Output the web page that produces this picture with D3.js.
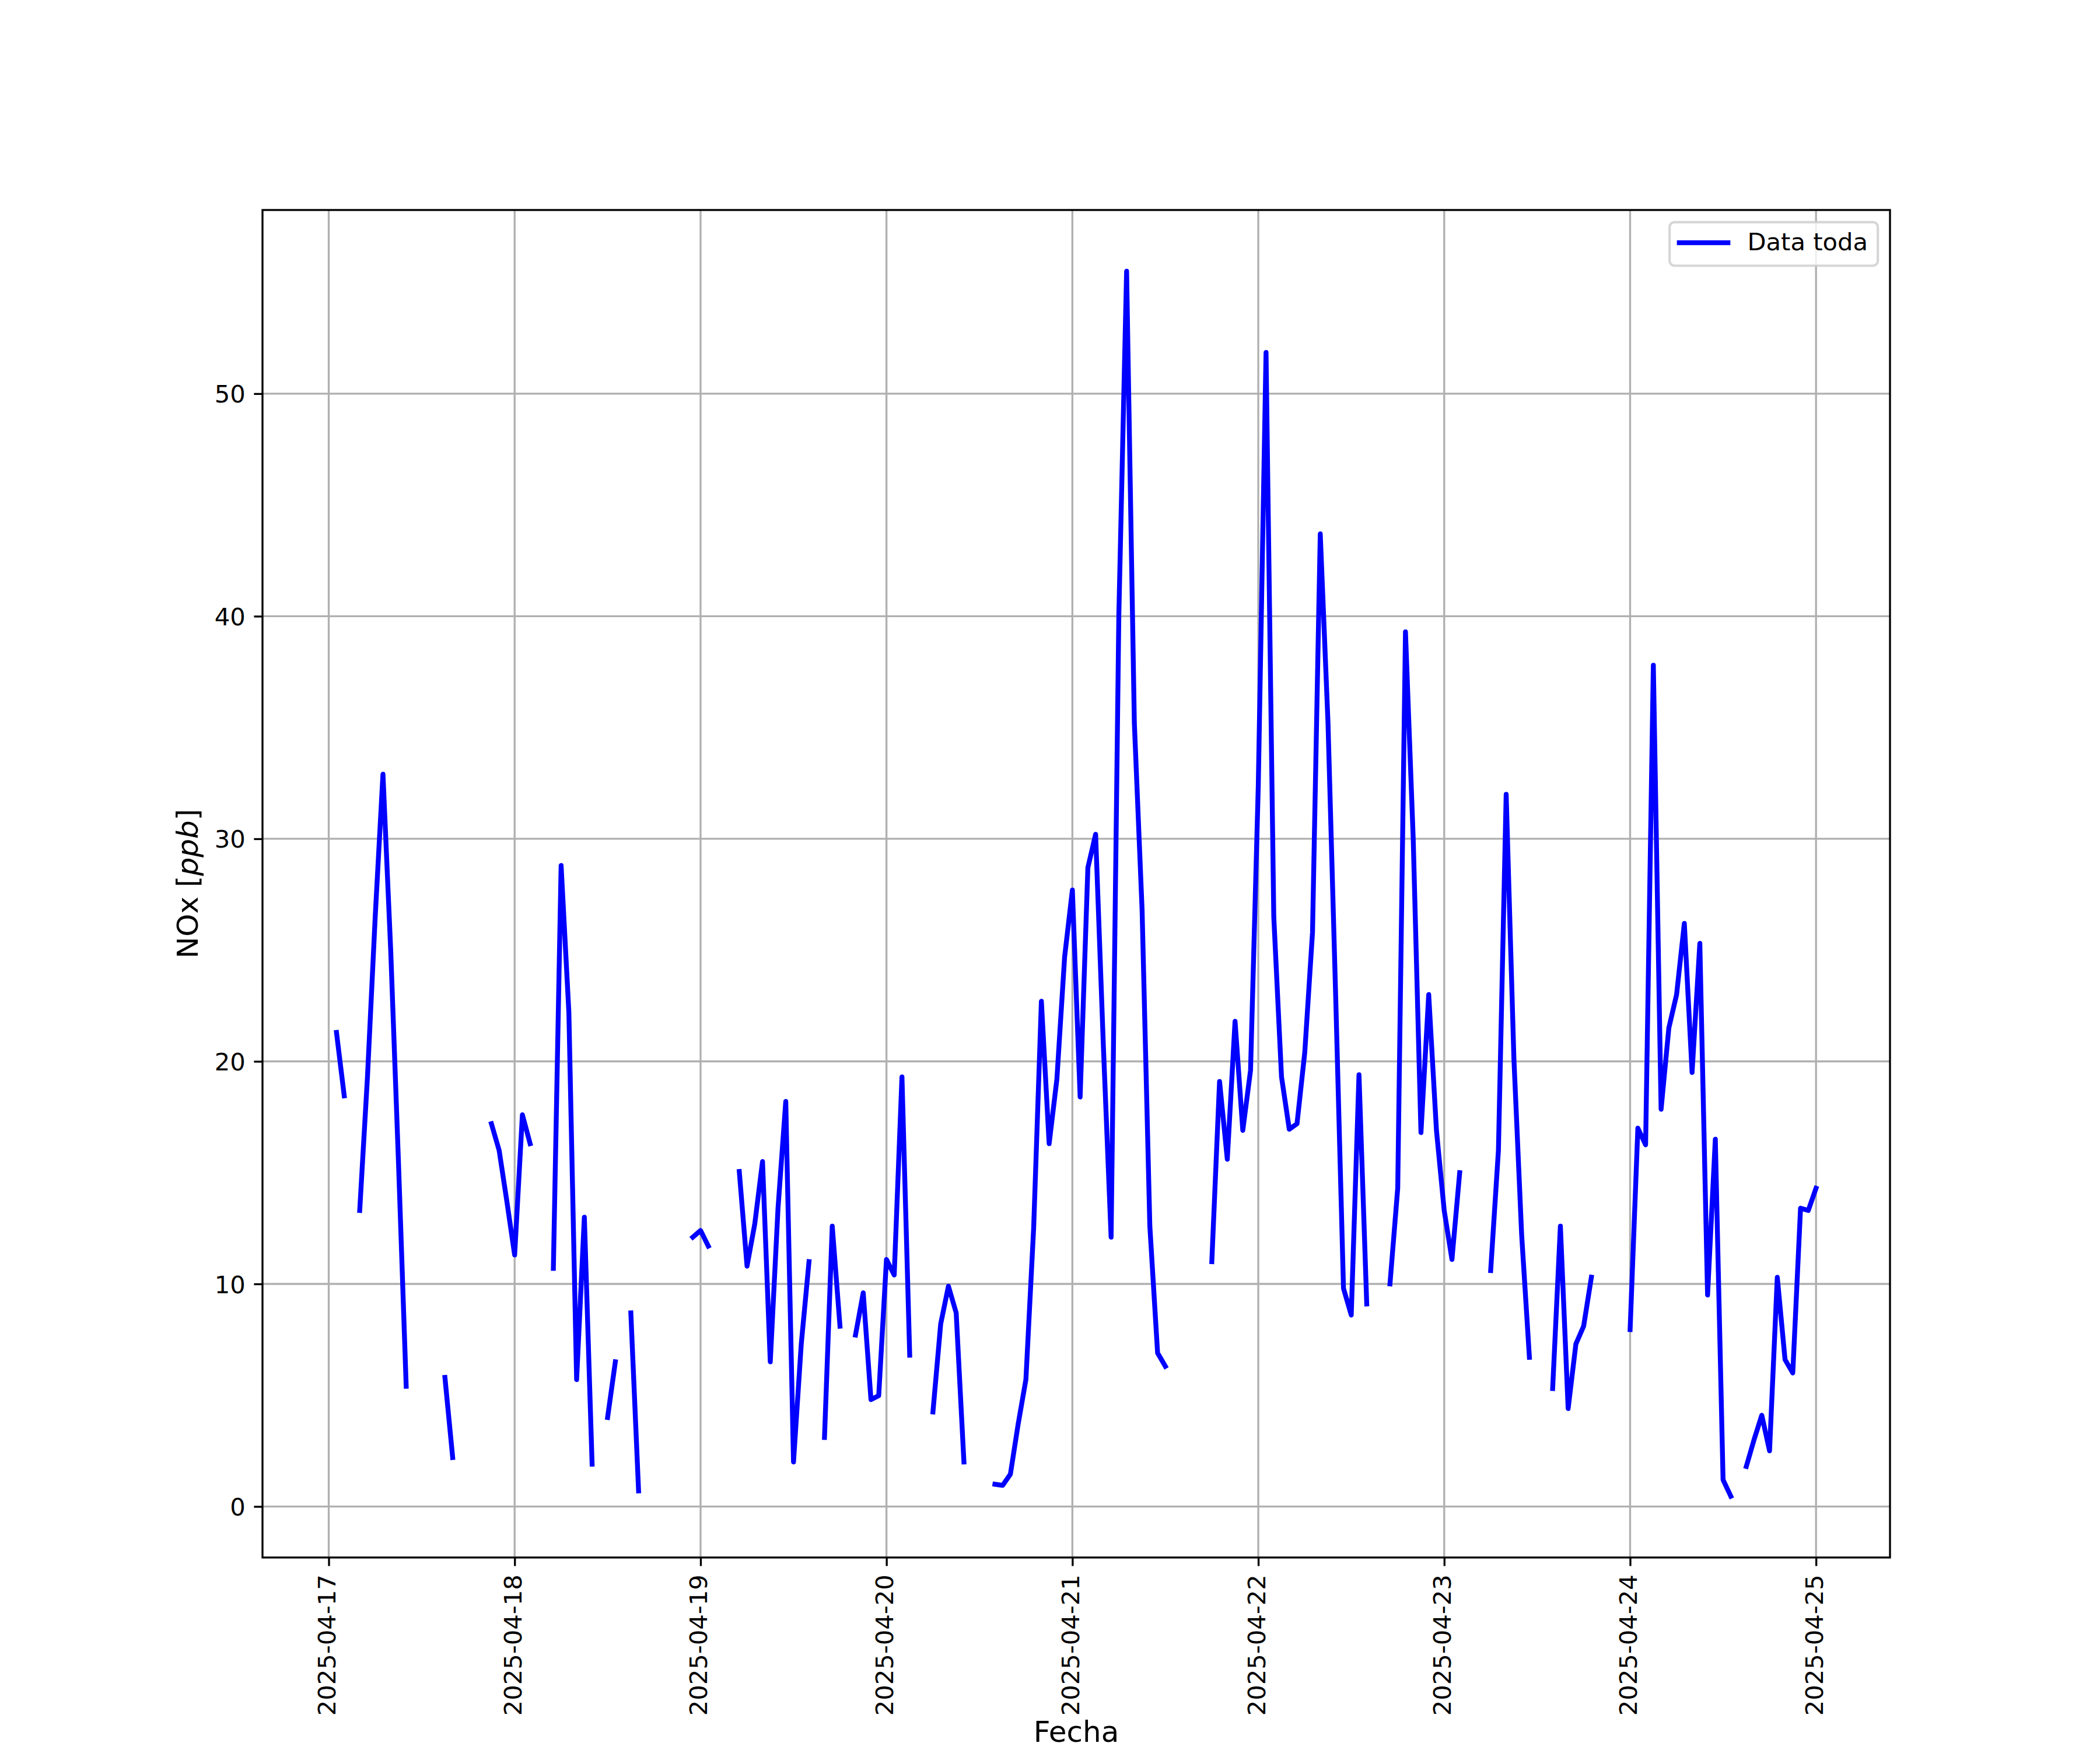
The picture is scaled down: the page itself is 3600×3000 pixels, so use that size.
<!DOCTYPE html>
<html>
<head>
<meta charset="utf-8">
<script src="https://cdn.jsdelivr.net/npm/d3@7"></script>
<style>
  html, body { margin: 0; padding: 0; background: #ffffff; }
  svg { display: block; }
</style>
</head>
<body>
<script>
// ---- Data: hourly NOx [ppb], null = missing ----
const startISO = "2025-04-17T00:00:00Z";
const nox_0417 = [null, 21.3, 18.45, null, 13.3, 19.3, 26.5, 32.9, 25.0, 15.5, 5.4, null,
                  null, null, null, 5.8, 2.2, null, null, null, null, 17.2, 16.0, 13.7];
const nox_0418 = [11.3, 17.6, 16.3, null, null, 10.7, 28.8, 22.2, 5.7, 13.0, 1.9, null,
                  4.0, 6.5, null, 8.7, 0.7, null, null, null, null, null, null, 12.1];
const nox_0419 = [12.4, 11.7, null, null, null, 15.05, 10.8, 12.7, 15.5, 6.5, 13.4, 18.2,
                  2.0, 7.3, 11.0, null, 3.1, 12.6, 8.1, null, 7.7, 9.6, 4.8, 4.98];
const nox_0420 = [11.1, 10.4, 19.3, 6.8, null, null, 4.25, 8.2, 9.9, 8.7, 2.0, null,
                  null, null, 1.0, 0.95, 1.45, 3.7, 5.7, 12.5, 22.7, 16.3, 19.2, 24.7];
const nox_0421 = [27.7, 18.4, 28.7, 30.2, 20.7, 12.1, 40.1, 55.5, 35.2, 26.8, 12.6, 6.9,
                  6.3, null, null, null, null, null, 11.0, 19.1, 15.6, 21.8, 16.9, 19.6];
const nox_0422 = [32.4, 51.85, 26.5, 19.3, 16.95, 17.2, 20.4, 25.8, 43.7, 35.2, 22.8, 9.8,
                  8.6, 19.4, 9.1, null, null, 10.0, 14.3, 39.3, 30.0, 16.8, 23.0, 16.9];
const nox_0423 = [13.3, 11.1, 15.0, null, null, null, 10.6, 16.0, 32.0, 20.1, 12.2, 6.7,
                  null, null, 5.3, 12.6, 4.4, 7.3, 8.1, 10.3, null, null, null, null];
const nox_0424 = [7.95, 17.0, 16.25, 37.8, 17.85, 21.5, 23.0, 26.2, 19.5, 25.3, 9.5, 16.5,
                  1.2, 0.46, null, 1.8, 3.0, 4.1, 2.5, 10.3, 6.6, 6.0, 13.4, 13.3];
const nox_0425 = [14.3];

const yTicks = [0, 10, 20, 30, 40, 50];
const xTickLabels = ["2025-04-17","2025-04-18","2025-04-19","2025-04-20","2025-04-21",
                     "2025-04-22","2025-04-23","2025-04-24","2025-04-25"];
const seriesName = "Data toda";
const xLabel = "Fecha";

// ---- Build table ----
const allVals = [].concat(nox_0417, nox_0418, nox_0419, nox_0420, nox_0421,
                          nox_0422, nox_0423, nox_0424, nox_0425);
const t0 = new Date(startISO).getTime();
const data = allVals.map((v, i) => ({ t: new Date(t0 + i * 3600e3), v: v }));
const valid = data.filter(d => d.v != null);

// ---- Layout (matplotlib defaults at 300 dpi, 12x10 in) ----
const W = 3600, H = 3000;
const L = 450, R = 3240, T = 360, B = 2670;
const pt = 300 / 72;
const tickFont = 10 * pt, labelFont = 12 * pt;

const svg = d3.select("body").append("svg")
  .attr("width", W).attr("height", H)
  .attr("font-family", "DejaVu Sans, sans-serif");
svg.append("rect").attr("width", W).attr("height", H).attr("fill", "#fff");

const tExt = d3.extent(valid, d => d.t.getTime());
const tPad = (tExt[1] - tExt[0]) * 0.05;
const x = d3.scaleUtc().domain([new Date(tExt[0] - tPad), new Date(tExt[1] + tPad)]).range([L, R]);
const vExt = d3.extent(valid, d => d.v);
const vPad = (vExt[1] - vExt[0]) * 0.05;
const y = d3.scaleLinear().domain([vExt[0] - vPad, vExt[1] + vPad]).range([B, T]);

const xTickDates = xTickLabels.map(s => new Date(s + "T00:00:00Z"));
const fmt = d3.utcFormat("%Y-%m-%d");

// grid
const grid = svg.append("g").attr("stroke", "#b0b0b0").attr("stroke-width", 0.8 * pt);
grid.selectAll(".gx").data(xTickDates).enter().append("line")
  .attr("x1", d => x(d)).attr("x2", d => x(d)).attr("y1", T).attr("y2", B);
grid.selectAll(".gy").data(yTicks).enter().append("line")
  .attr("x1", L).attr("x2", R).attr("y1", d => y(d)).attr("y2", d => y(d));

// line
svg.append("clipPath").attr("id", "clip").append("rect")
  .attr("x", L).attr("y", T).attr("width", R - L).attr("height", B - T);
const line = d3.line().defined(d => d.v != null).x(d => x(d.t)).y(d => y(d.v));
svg.append("path").datum(data)
  .attr("d", line)
  .attr("fill", "none").attr("stroke", "#0000ff")
  .attr("stroke-width", 2 * pt)
  .attr("stroke-linejoin", "round").attr("stroke-linecap", "square")
  .attr("clip-path", "url(#clip)");

// axes with d3 axis generators
const tickLen = 3.5 * pt, tickPad = 3.5 * pt;
const xAxis = d3.axisBottom(x).tickValues(xTickDates).tickFormat(fmt)
  .tickSizeInner(tickLen).tickSizeOuter(0).tickPadding(tickPad);
const gx = svg.append("g").attr("transform", `translate(0,${B})`).call(xAxis);
gx.select(".domain").remove();
gx.selectAll(".tick line").attr("stroke", "#000").attr("stroke-width", 0.8 * pt);
gx.selectAll(".tick text")
  .attr("font-size", tickFont).attr("fill", "#000").attr("font-family", "DejaVu Sans")
  .attr("text-anchor", "end")
  .attr("transform", `translate(0,${tickLen + tickPad}) rotate(-90)`)
  .attr("x", 0).attr("y", 0).attr("dy", "0.265em");

const yAxis = d3.axisLeft(y).tickValues(yTicks).tickFormat(d3.format("d"))
  .tickSizeInner(tickLen).tickSizeOuter(0).tickPadding(tickPad);
const gy = svg.append("g").attr("transform", `translate(${L},0)`).call(yAxis);
gy.select(".domain").remove();
gy.selectAll(".tick line").attr("stroke", "#000").attr("stroke-width", 0.8 * pt);
gy.selectAll(".tick text")
  .attr("font-size", tickFont).attr("fill", "#000").attr("font-family", "DejaVu Sans")
  .attr("dy", "0.36em");

// spines
svg.append("rect").attr("x", L).attr("y", T).attr("width", R - L).attr("height", B - T)
  .attr("fill", "none").attr("stroke", "#000").attr("stroke-width", 0.8 * pt);

// axis labels
svg.append("text").attr("x", (L + R) / 2).attr("y", 2986)
  .attr("text-anchor", "middle").attr("font-size", labelFont).attr("fill", "#000")
  .text(xLabel);
const yl = svg.append("text")
  .attr("transform", `translate(339,${(T + B) / 2}) rotate(-90)`)
  .attr("text-anchor", "middle").attr("font-size", labelFont).attr("fill", "#000");
yl.append("tspan").text("NOx [");
yl.append("tspan").attr("font-style", "italic").text("ppb");
yl.append("tspan").text("]");

// legend
const lf = tickFont;
const lgW = 357, lgH = 74.7;
const lgX = R - 0.5 * lf - lgW, lgY = T + 0.5 * lf;
svg.append("rect").attr("x", lgX).attr("y", lgY).attr("width", lgW).attr("height", lgH)
  .attr("rx", 0.2 * lf).attr("ry", 0.2 * lf)
  .attr("fill", "#fff").attr("fill-opacity", 0.8)
  .attr("stroke", "#cccccc").attr("stroke-opacity", 0.8).attr("stroke-width", 1.0 * pt);
const hy = lgY + 0.4 * lf + 0.99 * lf / 2 - 2;
svg.append("line")
  .attr("x1", lgX + 0.4 * lf).attr("x2", lgX + 0.4 * lf + 2 * lf)
  .attr("y1", hy).attr("y2", hy)
  .attr("stroke", "#0000ff").attr("stroke-width", 2 * pt).attr("stroke-linecap", "square");
svg.append("text")
  .attr("x", lgX + 0.4 * lf + 2 * lf + 0.8 * lf)
  .attr("y", lgY + 0.4 * lf + 0.76 * lf)
  .attr("font-size", lf).attr("fill", "#000")
  .text(seriesName);
</script>
</body>
</html>
